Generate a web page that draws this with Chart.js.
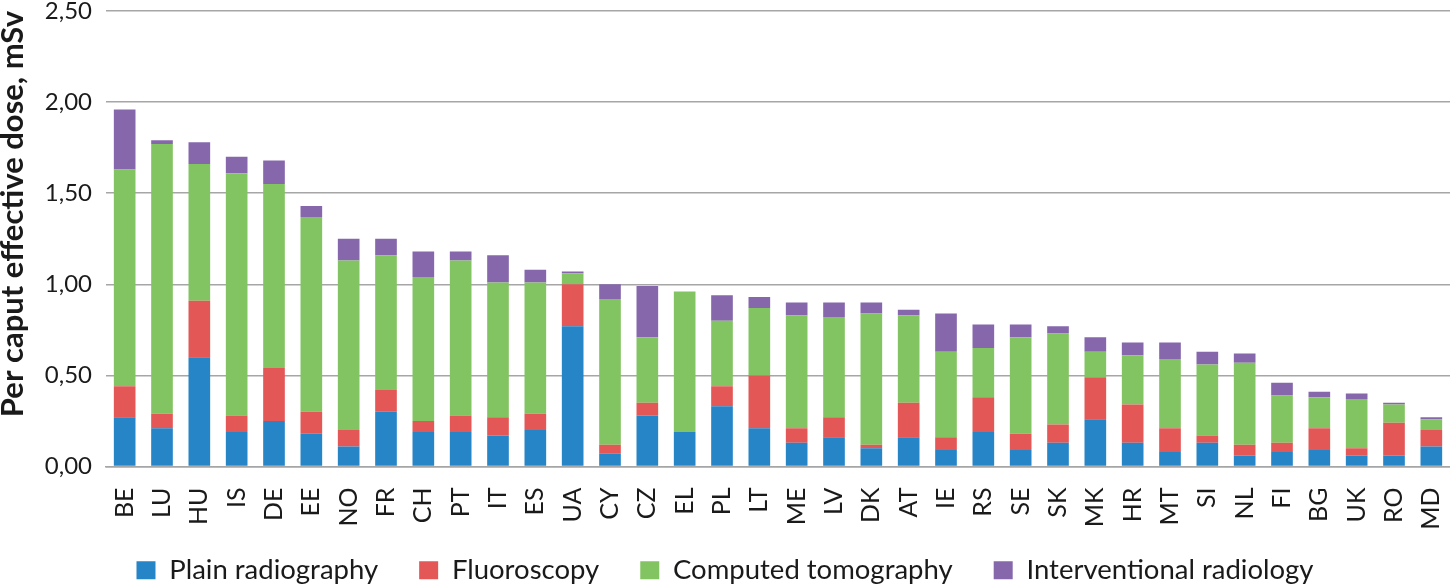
<!DOCTYPE html>
<html>
<head>
<meta charset="utf-8">
<script src="https://cdn.jsdelivr.net/npm/chart.js@4.4.1/dist/chart.umd.min.js"></script>
<style>
  html, body { margin: 0; padding: 0; background: #fff; }
  #wrap { width: 1450px; height: 585px; }
</style>
</head>
<body>
<div id="wrap"><canvas id="doseChart"></canvas></div>
<script>
const countries = ['BE','LU','HU','IS','DE','EE','NO','FR','CH','PT','IT','ES','UA','CY','CZ','EL','PL','LT',
                   'ME','LV','DK','AT','IE','RS','SE','SK','MK','HR','MT','SI','NL','FI','BG','UK','RO','MD'];

const plainRadiography = [0.27,0.21,0.60,0.19,0.25,0.18,0.11,0.30,0.19,0.19,0.17,0.20,0.77,0.07,0.28,0.19,0.33,0.21,
                          0.13,0.16,0.10,0.16,0.09,0.19,0.09,0.13,0.26,0.13,0.08,0.13,0.06,0.08,0.09,0.06,0.06,0.11];
const fluoroscopy      = [0.17,0.08,0.31,0.09,0.29,0.12,0.09,0.12,0.06,0.09,0.10,0.09,0.23,0.05,0.07,0.00,0.11,0.29,
                          0.08,0.11,0.02,0.19,0.07,0.19,0.09,0.10,0.23,0.21,0.13,0.04,0.06,0.05,0.12,0.04,0.18,0.09];
const computedTomo     = [1.19,1.48,0.75,1.33,1.01,1.07,0.93,0.74,0.79,0.85,0.74,0.72,0.06,0.80,0.36,0.77,0.36,0.37,
                          0.62,0.55,0.72,0.48,0.47,0.27,0.53,0.50,0.14,0.27,0.38,0.39,0.45,0.26,0.17,0.27,0.10,0.06];
const interventional   = [0.33,0.02,0.12,0.09,0.13,0.06,0.12,0.09,0.14,0.05,0.15,0.07,0.01,0.08,0.28,0.00,0.14,0.06,
                          0.07,0.08,0.06,0.03,0.21,0.13,0.07,0.04,0.08,0.07,0.09,0.07,0.05,0.07,0.03,0.03,0.01,0.01];

const yTicks = [0, 0.5, 1, 1.5, 2, 2.5];

const font = 'Lato, "Open Sans", sans-serif';
const gridGray = '#a6a6a6';
const textColor = '#1a1a1a';

function ds(label, data, color) {
    return {
        label: label,
        data: data,
        backgroundColor: color,
        borderWidth: 0,
        barPercentage: 0.58,
        categoryPercentage: 1.0
    };
}

const ctx = document.getElementById('doseChart').getContext('2d');
new Chart(ctx, {
    type: 'bar',
    data: {
        labels: countries,
        datasets: [
            ds('Plain radiography', plainRadiography, '#2585c7'),
            ds('Fluoroscopy', fluoroscopy, '#e35757'),
            ds('Computed tomography', computedTomo, '#83c462'),
            ds('Interventional radiology', interventional, '#8667ac')
        ]
    },
    options: {
        responsive: true,
        maintainAspectRatio: false,
        animation: false,
        layout: { padding: { top: 0, right: 0, left: 0, bottom: -9 } },
        plugins: {
            legend: {
                position: 'bottom',
                labels: {
                    font: { family: font, size: 27.5 },
                    color: textColor,
                    boxWidth: 19,
                    boxHeight: 18,
                    padding: 41
                }
            },
            tooltip: { enabled: false }
        },
        scales: {
            x: {
                stacked: true,
                grid: { display: false },
                border: { color: gridGray, width: 1.5 },
                ticks: {
                    font: { family: font, size: 25 },
                    color: textColor,
                    minRotation: 90,
                    maxRotation: 90,
                    autoSkip: false,
                    padding: 13
                },
                afterFit: function (scale) {
                    scale.height = 49;
                    scale.paddingLeft = 0;
                    scale.paddingRight = 0;
                    // labels run a little into the empty top of the legend box
                    scale._computeLabelArea = () => undefined;
                }
            },
            y: {
                stacked: true,
                min: 0,
                max: 2.5,
                afterBuildTicks: function (scale) {
                    scale.ticks = yTicks.map(v => ({ value: v }));
                },
                grid: { color: gridGray, lineWidth: 1.5, drawTicks: false },
                border: { display: false },
                ticks: {
                    font: { family: font, size: 24 },
                    color: textColor,
                    padding: 14,
                    callback: v => v.toFixed(2).replace('.', ',')
                },
                title: {
                    display: true,
                    align: 'end',
                    text: 'Per caput effective dose, mSv',
                    font: { family: font, size: 31, weight: 'bold', lineHeight: 0.85 },
                    color: textColor,
                    padding: { top: 0, bottom: 0 }
                },
                afterFit: function (scale) {
                    scale.width = 106;
                    scale.paddingTop = 11;
                    scale.paddingBottom = 0;
                }
            }
        }
    }
});
</script>
</body>
</html>
